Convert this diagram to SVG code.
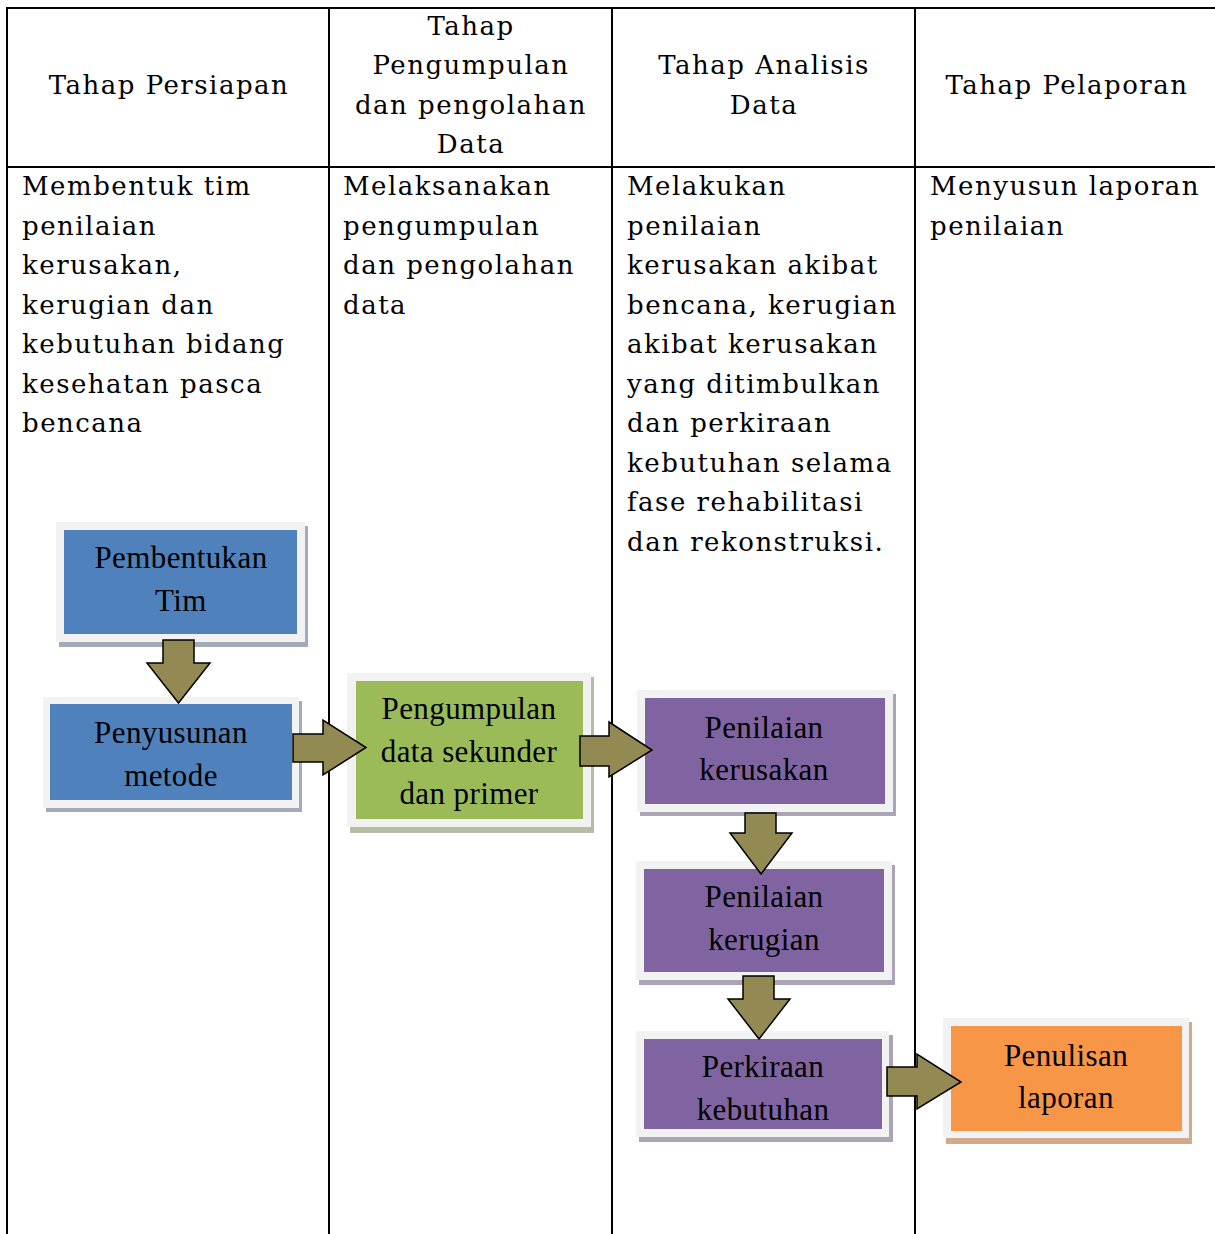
<svg xmlns="http://www.w3.org/2000/svg" width="1215" height="1234" viewBox="0 0 1215 1234">
<style>
.tl{stroke:#000;stroke-width:2;fill:none}
.tt{font-family:"DejaVu Serif","Liberation Serif",serif;font-size:26px;letter-spacing:1.5px;fill:#000}
.c{text-anchor:middle}
.bt{font-family:"Liberation Serif","Times New Roman",serif;font-size:31px;letter-spacing:0.4px;fill:#000;text-anchor:middle}
.fr{fill:#f2f2f2}
.ar{fill:#938953;stroke:#000;stroke-width:1.5;stroke-linejoin:miter}
</style>
<rect width="1215" height="1234" fill="#fff"/>
<g id="table">
<line class="tl" x1="7" y1="8" x2="1215" y2="8"/>
<line class="tl" x1="7" y1="167" x2="1215" y2="167"/>
<line class="tl" x1="7" y1="7" x2="7" y2="1234"/>
<line class="tl" x1="329" y1="7" x2="329" y2="1234"/>
<line class="tl" x1="612" y1="7" x2="612" y2="1234"/>
<line class="tl" x1="915" y1="7" x2="915" y2="1234"/>
<text class="tt c" x="169" y="94">Tahap Persiapan</text>
<text class="tt c" x="471" y="34.5">Tahap</text>
<text class="tt c" x="471" y="74">Pengumpulan</text>
<text class="tt c" x="471" y="113.5">dan pengolahan</text>
<text class="tt c" x="471" y="153">Data</text>
<text class="tt c" x="764" y="74">Tahap Analisis</text>
<text class="tt c" x="764" y="113.5">Data</text>
<text class="tt c" x="1067" y="94">Tahap Pelaporan</text>
<text class="tt" x="22" y="195">Membentuk tim</text>
<text class="tt" x="22" y="234.5">penilaian</text>
<text class="tt" x="22" y="274">kerusakan,</text>
<text class="tt" x="22" y="313.5">kerugian dan</text>
<text class="tt" x="22" y="353">kebutuhan bidang</text>
<text class="tt" x="22" y="392.5">kesehatan pasca</text>
<text class="tt" x="22" y="432">bencana</text>
<text class="tt" x="343" y="195">Melaksanakan</text>
<text class="tt" x="343" y="234.5">pengumpulan</text>
<text class="tt" x="343" y="274">dan pengolahan</text>
<text class="tt" x="343" y="313.5">data</text>
<text class="tt" x="627" y="195">Melakukan</text>
<text class="tt" x="627" y="234.5">penilaian</text>
<text class="tt" x="627" y="274">kerusakan akibat</text>
<text class="tt" x="627" y="313.5">bencana, kerugian</text>
<text class="tt" x="627" y="353">akibat kerusakan</text>
<text class="tt" x="627" y="392.5">yang ditimbulkan</text>
<text class="tt" x="627" y="432">dan perkiraan</text>
<text class="tt" x="627" y="471.5">kebutuhan selama</text>
<text class="tt" x="627" y="511">fase rehabilitasi</text>
<text class="tt" x="627" y="550.5">dan rekonstruksi.</text>
<text class="tt" x="930" y="195">Menyusun laporan</text>
<text class="tt" x="930" y="234.5">penilaian</text>
</g>
<g id="node-pembentukan">
<rect x="59" y="526" width="249" height="121" fill="#a3abb9"/>
<rect class="fr" x="56" y="522" width="249" height="120"/>
<rect x="64" y="530" width="233" height="104" fill="#4f81bd"/>
<text class="bt" x="181" y="568">Pembentukan</text>
<text class="bt" x="181" y="611">Tim</text>
</g>
<g id="node-penyusunan">
<rect x="46" y="701" width="256" height="111" fill="#a3abb9"/>
<rect class="fr" x="43" y="697" width="256" height="111"/>
<rect x="50" y="704" width="242" height="96" fill="#4f81bd"/>
<text class="bt" x="171" y="743">Penyusunan</text>
<text class="bt" x="171" y="786">metode</text>
</g>
<g id="node-pengumpulan">
<rect x="350" y="677" width="244" height="156" fill="#b6bca6"/>
<rect class="fr" x="347" y="673" width="244" height="154"/>
<rect x="356" y="681" width="227" height="138" fill="#9bbb59"/>
<text class="bt" x="469" y="719">Pengumpulan</text>
<text class="bt" x="469" y="762">data sekunder</text>
<text class="bt" x="469" y="804">dan primer</text>
</g>
<g id="node-penilaian-kerusakan">
<rect x="640" y="694" width="256" height="122" fill="#aba4b5"/>
<rect class="fr" x="637" y="690" width="256" height="122"/>
<rect x="645" y="698" width="240" height="106" fill="#8064a2"/>
<text class="bt" x="764" y="738">Penilaian</text>
<text class="bt" x="764" y="780">kerusakan</text>
</g>
<g id="node-penilaian-kerugian">
<rect x="639" y="865" width="256" height="120" fill="#aba4b5"/>
<rect class="fr" x="636" y="861" width="256" height="119"/>
<rect x="644" y="869" width="240" height="103" fill="#8064a2"/>
<text class="bt" x="764" y="907">Penilaian</text>
<text class="bt" x="764" y="950">kerugian</text>
</g>
<g id="node-perkiraan">
<rect x="639" y="1035" width="254" height="107" fill="#aba4b5"/>
<rect class="fr" x="636" y="1031" width="253" height="106"/>
<rect x="644" y="1039" width="238" height="90" fill="#8064a2"/>
<text class="bt" x="763" y="1077">Perkiraan</text>
<text class="bt" x="763" y="1120">kebutuhan</text>
</g>
<g id="node-penulisan">
<rect x="946" y="1022" width="246" height="122" fill="#d2a98b"/>
<rect class="fr" x="943" y="1018" width="246" height="120"/>
<rect x="951" y="1026" width="231" height="105" fill="#f79646"/>
<text class="bt" x="1066" y="1066">Penulisan</text>
<text class="bt" x="1066" y="1108">laporan</text>
</g>
<g id="connectors">
<polygon class="ar" points="163,640 194,640 194,663 210,663 178.5,703 147,663 163,663"/>
<polygon class="ar" points="293,734 323,734 323,720 366,747.5 323,775 323,762 293,762"/>
<polygon class="ar" points="580,736 609,736 609,722 652,750 609,777 609,766 580,766"/>
<polygon class="ar" points="745,813 776,813 776,833 792,833 761,874 730,833 745,833"/>
<polygon class="ar" points="743,976 774,976 774,999 790,999 759,1039 728,999 743,999"/>
<polygon class="ar" points="887,1067 917,1067 917,1054 961,1082 917,1109 917,1096 887,1096"/>
</g>
</svg>
